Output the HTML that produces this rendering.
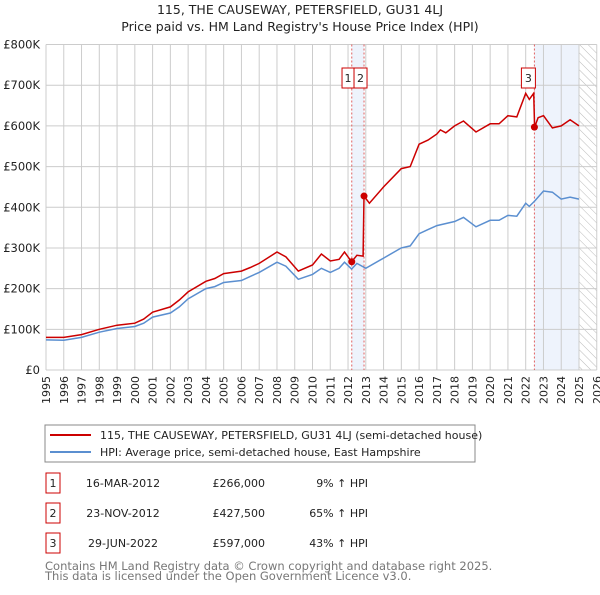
<!DOCTYPE html>
<html><head><meta charset="utf-8"><style>
body{margin:0;background:#fff;font-family:"Liberation Sans","DejaVu Sans",sans-serif;}
svg text{font-family:"DejaVu Sans","Liberation Sans",sans-serif;}
</style></head><body>
<svg id="chart" width="600" height="590" xmlns="http://www.w3.org/2000/svg">
<defs><pattern id="hatch" width="6" height="6" patternUnits="userSpaceOnUse" patternTransform="rotate(-45)"><line x1="0" y1="0" x2="0" y2="6" stroke="#bbb" stroke-width="1"/></pattern></defs>
<text x="300" y="14" text-anchor="middle" font-size="12.5" fill="#222">115, THE CAUSEWAY, PETERSFIELD, GU31 4LJ</text>
<text x="300" y="31" text-anchor="middle" font-size="12.5" fill="#222">Price paid vs. HM Land Registry's House Price Index (HPI)</text>
<g id="plot"></g>
<rect x="45" y="425" width="430" height="37" fill="#fff" stroke="#888"/>
<line x1="50" y1="435" x2="91" y2="435" stroke="#cc0000" stroke-width="2"/>
<text x="100" y="439" font-size="11" fill="#222">115, THE CAUSEWAY, PETERSFIELD, GU31 4LJ (semi-detached house)</text>
<line x1="50" y1="452" x2="91" y2="452" stroke="#5b8fd0" stroke-width="2"/>
<text x="100" y="456" font-size="11" fill="#222">HPI: Average price, semi-detached house, East Hampshire</text>
<g id="table" font-size="11" fill="#222"></g>
<text x="45" y="570" font-size="11.5" fill="#777">Contains HM Land Registry data © Crown copyright and database right 2025.</text>
<text x="45" y="580" font-size="11.5" fill="#777">This data is licensed under the Open Government Licence v3.0.</text>
</svg>
<script>
const hpiYears=[1995,1996,1997,1998,1999,2000,2000.5,2001,2002,2002.5,2003,2004,2004.5,2005,2006,2006.5,2007,2008,2008.5,2009.2,2010,2010.5,2011,2011.5,2011.8,2012.2,2012.5,2013,2014,2015,2015.5,2016,2016.5,2017,2018,2018.5,2019.2,2020,2020.5,2021,2021.5,2022,2022.2,2022.5,2023,2023.5,2024,2024.5,2025];
const hpiValues=[74,73,80,93,102,107,115,130,140,155,175,200,205,215,220,230,240,265,255,223,235,250,240,250,265,248,262,250,275,300,305,335,345,355,365,375,352,368,368,380,378,410,402,415,440,437,420,425,420];
const priceYears=[1995,1996,1997,1998,1999,2000,2000.5,2001,2002,2002.5,2003,2004,2004.5,2005,2006,2006.5,2007,2008,2008.5,2009.2,2010,2010.5,2011,2011.5,2011.8,2012.2,2012.5,2012.85,2012.9,2013.2,2014,2015,2015.5,2016,2016.5,2017,2017.2,2017.5,2018,2018.5,2019.2,2020,2020.5,2021,2021.5,2022,2022.2,2022.45,2022.5,2022.7,2023,2023.5,2024,2024.5,2025];
const priceValues=[80,80,87,100,110,115,125,142,155,172,192,218,225,237,243,252,262,290,278,243,258,285,268,272,290,266,282,280,427.5,410,450,495,500,555,565,580,590,583,600,612,585,605,605,625,622,680,665,680,597,620,625,595,600,615,600];
const saleLabels=["1","2","3"];
const saleYears=[2012.21,2012.9,2022.49];
const saleValues=[266,427.5,597];
const saleDates=["16-MAR-2012","23-NOV-2012","29-JUN-2022"];
const salePrices=["£266,000","£427,500","£597,000"];
const saleHpi=["9% ↑ HPI","65% ↑ HPI","43% ↑ HPI"];
const yTicks=[0,100,200,300,400,500,600,700,800];
const yTickLabels=["£0","£100K","£200K","£300K","£400K","£500K","£600K","£700K","£800K"];
const xTicks=[1995,1996,1997,1998,1999,2000,2001,2002,2003,2004,2005,2006,2007,2008,2009,2010,2011,2012,2013,2014,2015,2016,2017,2018,2019,2020,2021,2022,2023,2024,2025,2026];

const NS="http://www.w3.org/2000/svg";
const X0=46,X1=579,Y0=370,Y1=44.5;
const xs=y=>X0+(y-1995)*(X1-X0)/30;
const ys=v=>Y0-(v/800)*(Y0-Y1);
const plot=document.getElementById('plot');
function mk(tag,attrs,parent){const e=document.createElementNS(NS,tag);for(const k in attrs)e.setAttribute(k,attrs[k]);(parent||plot).appendChild(e);return e;}
const PR=xs(2026);
let r=mk('rect',{x:xs(2012.21),y:Y1,width:xs(2012.9)-xs(2012.21),height:Y0-Y1,fill:'#eef3fc'});


r=mk('rect',{x:xs(2022.49),y:Y1,width:xs(2025)-xs(2022.49),height:Y0-Y1,fill:'#eef3fc'});


r=mk('rect',{x:xs(2025),y:Y1,width:PR-xs(2025),height:Y0-Y1,fill:'url(#hatch)'});


xTicks.forEach(t=>{
  const l=mk('line',{x1:xs(t),x2:xs(t),y1:Y1,y2:Y0,stroke:'#ccc','stroke-width':1});
  
  
  const tx=mk('text',{x:0,y:0,transform:`translate(${xs(t)+4},${Y0+6}) rotate(-90)`,'text-anchor':'end','font-size':11,fill:'#222'});
  tx.textContent=t;
  
  
});
yTicks.forEach((t,i)=>{
  const l=mk('line',{x1:X0,x2:PR,y1:ys(t),y2:ys(t),stroke:'#ccc','stroke-width':1});
  
  
  const tx=mk('text',{x:40,y:ys(t)+4,'text-anchor':'end','font-size':11.5,fill:'#222'});
  tx.textContent=yTickLabels[i];
  
  
});
saleYears.forEach(s=>{
  const l=mk('line',{x1:xs(s),x2:xs(s),y1:Y1,y2:Y0,stroke:'#e06060','stroke-width':1,'stroke-dasharray':'2,2'});
  
  
});
const hp=mk('path',{d:hpiYears.map((y,i)=>(i?'L':'M')+xs(y).toFixed(1)+','+ys(hpiValues[i]).toFixed(1)).join(''),fill:'none',stroke:'#5b8fd0','stroke-width':1.5});


const pp=mk('path',{d:priceYears.map((y,i)=>(i?'L':'M')+xs(y).toFixed(1)+','+ys(priceValues[i]).toFixed(1)).join(''),fill:'none',stroke:'#cc0000','stroke-width':1.5});


saleYears.forEach((s,i)=>{
  const c=mk('circle',{cx:xs(s),cy:ys(saleValues[i]),r:3.5,fill:'#cc0000'});
  
  
  let bx;
  if(i===0)bx=xs(saleYears[1])-22;
  else if(i===1)bx=xs(s)-10;
  else bx=xs(s)-13;
  const b=mk('rect',{x:bx,y:68,width:i===1?13:12,height:20,fill:'#fff',stroke:'#cc0000'});
  if(i===2)b.setAttribute('width',14);
  
  
  const t=mk('text',{x:bx+(+b.getAttribute('width'))/2,y:82,'text-anchor':'middle','font-size':11,fill:'#222'});
  t.textContent=saleLabels[i];
  
  
});
const tb=document.getElementById('table');
saleLabels.forEach((l,i)=>{
  const cy=483+i*30;
  const b=mk('rect',{x:46,y:cy-10,width:14,height:20,fill:'#fff',stroke:'#cc0000'},tb);
  
  
  const cells=[[53,'middle',l],[123,'middle',saleDates[i]],[265,'end',salePrices[i]],[368,'end',saleHpi[i]]];
  cells.forEach(c=>{
    const t=mk('text',{x:c[0],y:cy+4,'text-anchor':c[1]},tb);
    t.textContent=c[2];
    
    
  });
});
</script>
</body></html>
